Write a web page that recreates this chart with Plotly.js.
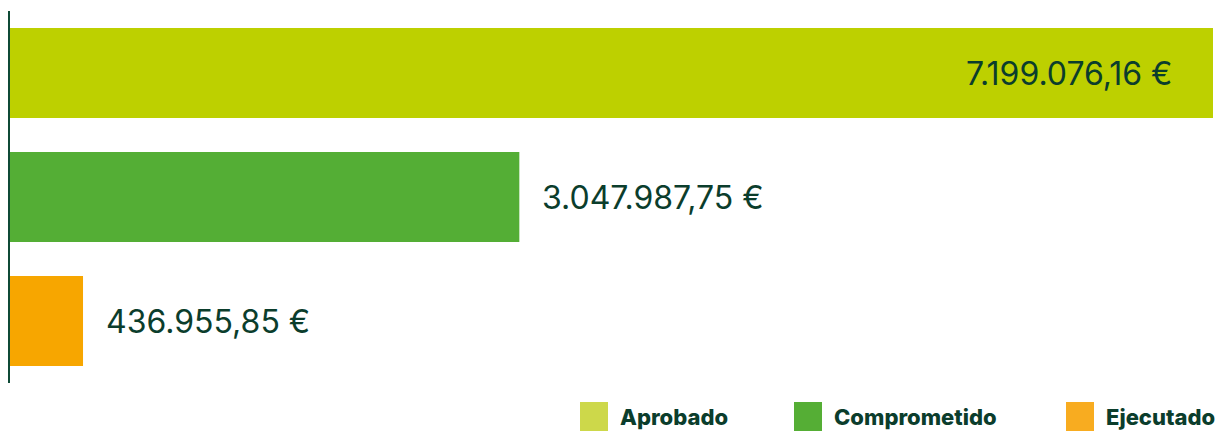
<!DOCTYPE html>
<html>
<head>
<meta charset="utf-8">
<script src="https://cdn.plot.ly/plotly-3.0.1.min.js"></script>
<style>html,body{margin:0;padding:0;background:#fff;}#chart{width:1219px;height:433px;}</style>
</head>
<body>
<div id="chart"></div>
<script>
const categories = ["Aprobado", "Comprometido", "Ejecutado"];
const values = [7199076.16, 3047987.75, 436955.85];
const valueLabels = ["7.199.076,16 €", "3.047.987,75 €", "436.955,85 €"];
const barColors = ["#bdd000", "#54ae35", "#f7a600"];
const legendColors = ["#cdd84a", "#55ae35", "#f8ac20"];

const textColor = "#0b3d2c";
const fontFam = "Inter, 'Noto Sans', sans-serif";

const trace = {
  type: "bar",
  orientation: "h",
  y: categories,
  x: values,
  marker: {color: barColors, line: {width: 0}},
  width: 0.726,
  hoverinfo: "none",
  showlegend: false
};

const annotations = categories.map((c, i) => {
  const inside = i === 0;
  return {
    x: values[i], y: c, xref: "x", yref: "y",
    text: valueLabels[i], showarrow: false,
    xanchor: inside ? "right" : "left",
    xshift: inside ? -39 : 21,
    font: {family: fontFam, size: 32, color: textColor}
  };
});

// custom legend
const shapes = [];
const legendX = [580, 794, 1066];
categories.forEach((c, i) => {
  shapes.push({
    type: "rect", xref: "paper", yref: "paper",
    x0: (legendX[i] - 10) / 1203, x1: (legendX[i] + 28 - 10) / 1203,
    y0: -(402 - 383) / 372, y1: -(431 - 383) / 372,
    fillcolor: legendColors[i], line: {width: 0}
  });
  annotations.push({
    xref: "paper", yref: "paper",
    x: (legendX[i] + 38 - 10) / 1203, y: -(417 - 383) / 372,
    xanchor: "left", yanchor: "middle",
    text: c, showarrow: false,
    font: {family: fontFam, size: 22, weight: 800, color: textColor}
  });
});

const layout = {
  width: 1219, height: 433,
  margin: {l: 10, r: 6, t: 11, b: 50},
  paper_bgcolor: "#ffffff", plot_bgcolor: "#ffffff",
  xaxis: {range: [0, 7199076.16], showgrid: false, zeroline: false, showticklabels: false, showline: false, fixedrange: true},
  yaxis: {autorange: "reversed", showgrid: false, zeroline: false, showticklabels: false, showline: true, linecolor: "#0f4a36", linewidth: 2, fixedrange: true},
  annotations: annotations,
  shapes: shapes,
  bargap: 0.274,
  showlegend: false
};

Plotly.newPlot("chart", [trace], layout, {displayModeBar: false, staticPlot: true});
</script>
</body>
</html>
